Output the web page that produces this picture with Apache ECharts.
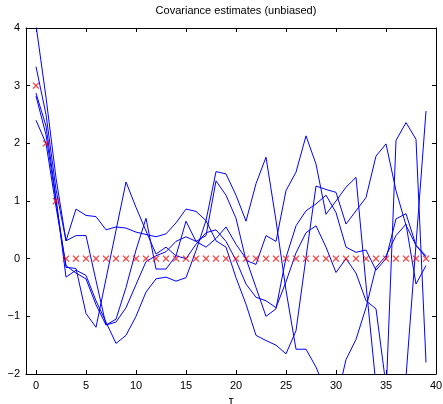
<!DOCTYPE html>
<html><head><meta charset="utf-8">
<script src="https://cdn.jsdelivr.net/npm/echarts@6/dist/echarts.min.js"></script>
<style>html,body{margin:0;padding:0;background:#fff}#c{width:443px;height:404px}</style>
</head><body><div id="c"></div>
<script>
const lags = Array.from({length: 40}, (_, i) => i);
const trueCov = [3,2,1,0,0,0,0,0,0,0,0,0,0,0,0,0,0,0,0,0,0,0,0,0,0,0,0,0,0,0,0,0,0,0,0,0,0,0,0,0];
const est1 = [4.05,2.8,1.4,0.31,0.86,0.75,0.73,0.5,0.55,0.53,0.46,0.42,0.38,0.43,0.62,0.86,0.82,0.66,0.31,0.2,-0.33,-0.79,-1.33,-1.42,-1.5,-1.65,-1.25,0.02,1.26,1.2,1.15,0.6,0.83,1.06,1.78,1.99,1.18,0.58,0.23,0.02];
const est2 = [3.33,2.5,1.2,0.31,0.4,0.4,-0.38,-1.15,-1.05,-0.5,0.15,0.7,-0.18,-0.18,0.05,0.65,0.3,0.4,1.35,1.1,0.7,-0.03,-0.1,0.4,0.3,1.18,1.5,2.13,1.64,0.77,1.0,1.24,1.41,-0.45,-2.2,-2.4,2.05,2.36,2.07,-1.8];
const est3 = [2.87,2.3,1.05,-0.32,-0.2,-0.29,-0.73,-1.1,-1.47,-1.33,-1.0,-0.58,-0.35,-0.32,-0.39,-0.33,0.14,0.66,1.51,1.47,1.1,0.65,1.3,1.76,0.66,-0.55,-1.57,-1.57,-1.88,-2.3,-2.5,-1.75,-1.4,-0.85,-0.15,0.05,0.4,0.6,-0.44,-0.12];
const est4 = [2.82,2.15,1.0,-0.15,-0.17,-0.95,-1.19,-0.35,0.49,1.33,0.89,0.48,0.08,0.2,0.05,0.0,0.25,0.45,0.5,0.3,-0.03,-0.44,-0.67,-0.73,-0.85,-0.4,0.1,0.45,0.57,0.2,-0.24,0.0,-0.25,-0.73,-0.87,-2.2,-2.6,-2.05,0.25,2.56];
const est5 = [2.4,2.0,0.9,-0.12,-0.25,-0.35,-0.8,-1.15,-1.1,-0.85,-0.45,-0.05,0.05,0.12,0.3,0.38,0.3,0.2,0.35,0.55,0.25,0.0,-0.5,-1.0,-0.87,0.02,0.57,0.83,0.95,1.1,0.8,0.2,0.11,0.15,-0.2,0.0,0.69,0.78,0.23,0.05];
const xTicks = [0,5,10,15,20,25,30,35,40];
const titleText = 'Covariance estimates (unbiased)';
const xName = 'τ';

const font = 'Liberation Sans, Arial, Helvetica, sans-serif';
const pair = a => a.map((v, i) => [lags[i], v]);
const estimates = [est1, est2, est3, est4, est5];
const lineSeries = estimates.map(e => ({
  type: 'line', data: pair(e), showSymbol: false, clip: true, silent: true,
  lineStyle: {color: '#0000ff', width: 1}, animation: false
}));
const axLine = {show: true, onZero: false, lineStyle: {color: '#000', width: 1}};
const xTick = {show: true, inside: true, length: 4, customValues: xTicks, lineStyle: {color: '#000'}};
const yTick = {show: true, inside: true, length: 4, lineStyle: {color: '#000'}};
const chart = echarts.init(document.getElementById('c'), null, {renderer: 'canvas'});
chart.setOption({
  animation: false,
  backgroundColor: '#fff',
  title: {text: titleText, left: 231, top: 0, textAlign: 'center',
    textStyle: {fontFamily: font, fontSize: 11, fontWeight: 'normal', color: '#000'}},
  grid: {left: 26, top: 28, width: 410, height: 346, containLabel: false, outerBoundsMode: 'none'},
  xAxis: [
    {type: 'value', min: -1, max: 40, position: 'bottom',
      name: xName, nameLocation: 'middle', nameGap: 20,
      nameTextStyle: {fontFamily: font, fontSize: 12, color: '#000'},
      axisLine: axLine, axisTick: xTick, splitLine: {show: false},
      axisLabel: {customValues: xTicks, fontFamily: font, fontSize: 11, color: '#000', margin: 6}},
    {type: 'value', min: -1, max: 40, position: 'top',
      axisLine: axLine, axisTick: xTick, splitLine: {show: false},
      axisLabel: {show: false}}
  ],
  yAxis: [
    {type: 'value', min: -2, max: 4, interval: 1, position: 'left',
      axisLine: axLine, axisTick: yTick, splitLine: {show: false},
      axisLabel: {fontFamily: font, fontSize: 11, color: '#000', margin: 6,
        formatter: v => String(v).replace('-', '\u2212')}},
    {type: 'value', min: -2, max: 4, interval: 1, position: 'right',
      axisLine: axLine, axisTick: yTick, splitLine: {show: false},
      axisLabel: {show: false}}
  ],
  series: lineSeries.concat([{
    type: 'scatter', data: pair(trueCov), silent: true,
    symbol: 'path://M0,0L10,10M10,0L0,10', symbolSize: 6,
    itemStyle: {color: 'transparent', borderColor: '#ff0000', borderWidth: 1.2},
    z: 5
  }])
});
</script></body></html>
